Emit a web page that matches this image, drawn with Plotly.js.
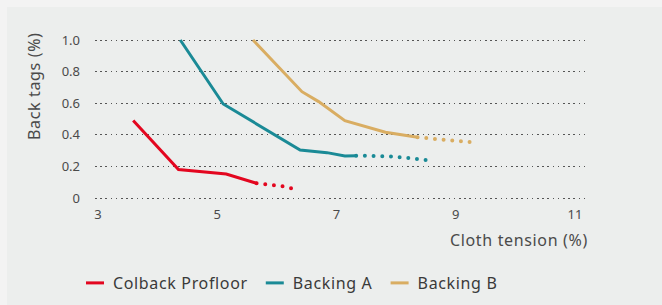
<!DOCTYPE html>
<html>
<head>
<meta charset="utf-8">
<script src="https://cdn.plot.ly/plotly-3.0.1.min.js"></script>
<style>
html, body { margin:0; padding:0; background:#f3f3f3; }
#chart { width:662px; height:305px; }
.scatterlayer .trace:nth-child(-n+3) path.js-line { stroke-linecap: round !important; }
.legend path.js-line { d: path("M13,0h18"); }
.legendtext, .annotation-text { letter-spacing: 0.65px; }
</style>
</head>
<body>
<div id="chart"></div>
<script>
// Series names
const seriesNames = ["Colback Profloor", "Backing A", "Backing B"];

// Solid (measured) parts
const profloorX = [3.59, 4.35, 5.15, 5.66];
const profloorY = [0.49, 0.18, 0.152, 0.093];
const backingAX = [4.38, 5.10, 6.39, 6.84, 7.14, 7.33];
const backingAY = [1.0, 0.595, 0.304, 0.287, 0.266, 0.268];
const backingBX = [5.60, 6.42, 6.70, 7.14, 7.82, 8.36];
const backingBY = [1.0, 0.673, 0.61, 0.489, 0.416, 0.384];

// Dotted (extrapolated) parts
const profloorDotX = [5.66, 6.07, 6.35];
const profloorDotY = [0.093, 0.076, 0.053];
const backingADotX = [7.33, 7.88, 8.20, 8.52];
const backingADotY = [0.268, 0.264, 0.253, 0.24];
const backingBDotX = [8.36, 8.79, 9.26];
const backingBDotY = [0.384, 0.369, 0.353];

// Ticks
const xTicks = [3, 5, 7, 9, 11];
const yTicks = [0, 0.2, 0.4, 0.6, 0.8, 1.0];
const yTickText = ["0", "0.2", "0.4", "0.6", "0.8", "1.0"];

const xTitle = "Cloth tension (%)";
const yTitle = "Back tags (%)";

const colors = ["#e3061f", "#1a8a96", "#d9ad62"];

const FONT = "'Noto Sans', sans-serif";

function dotted(x, y, c) {
  return { x: x, y: y, type: "scatter", mode: "lines", showlegend: false, hoverinfo: "skip",
           cliponaxis: false, line: { color: c, width: 4, dash: "0px,8.7px" } };
}
function solid(x, y, c, name) {
  return { x: x, y: y, type: "scatter", mode: "lines", name: name, cliponaxis: false,
           line: { color: c, width: 3 } };
}

const data = [
  dotted(profloorDotX, profloorDotY, colors[0]),
  dotted(backingADotX, backingADotY, colors[1]),
  dotted(backingBDotX, backingBDotY, colors[2]),
  solid(profloorX, profloorY, colors[0], seriesNames[0]),
  solid(backingAX, backingAY, colors[1], seriesNames[1]),
  solid(backingBX, backingBY, colors[2], seriesNames[2])
];

// plot area: x 95..587, y(0)=198, y(1)=40 ; range padded so edge gridlines draw
const L = 95, R = 75, T = 37, B = 104, W = 662, H = 305;
const pw = W - L - R, ph = H - T - B;
const px = v => (v - L) / pw;
const py = v => (H - B - v) / ph;

const layout = {
  width: W, height: H,
  margin: { l: L, r: R, t: T, b: B, pad: 0, autoexpand: false },
  paper_bgcolor: "#f3f3f3",
  plot_bgcolor: "rgba(0,0,0,0)",
  font: { family: FONT, color: "#4a4a4a" },
  xaxis: {
    range: [2.9497, 11.201],
    tickvals: xTicks, ticktext: xTicks.map(String),
    showgrid: false, zeroline: false, showline: false, ticks: "",
    tickfont: { size: 13, color: "#4a4a4a", family: FONT },
    ticklabelstandoff: 4
  },
  yaxis: {
    range: [-0.019, 1.019],
    tickvals: yTicks, ticktext: yTickText,
    showgrid: true, gridcolor: "#555", gridwidth: 1, griddash: "1.5px,3.7px",
    zeroline: false, showline: false, ticks: "",
    tickfont: { size: 13, color: "#4a4a4a", family: FONT },
    ticklabelstandoff: 14
  },
  showlegend: true,
  legend: {
    orientation: "h", x: px(73), xanchor: "left", y: py(283), yanchor: "middle",
    font: { size: 16, color: "#3a3a3a", family: FONT }, bgcolor: "rgba(0,0,0,0)"
  },
  shapes: [{
    type: "rect", xref: "paper", yref: "paper", layer: "below",
    x0: px(7), x1: px(W + 5), y0: py(H + 5), y1: py(7),
    fillcolor: "#eceeed", line: { width: 0 }
  }],
  annotations: [
    { text: xTitle, xref: "paper", yref: "paper", x: px(590), y: py(240),
      xanchor: "right", yanchor: "middle", showarrow: false,
      font: { size: 16, color: "#4a4a4a", family: FONT } },
    { text: yTitle, xref: "paper", yref: "paper", x: px(34), y: py(86),
      xanchor: "center", yanchor: "middle", textangle: -90, showarrow: false,
      font: { size: 16, color: "#4a4a4a", family: FONT } }
  ]
};

Plotly.newPlot("chart", data, layout, { displayModeBar: false, staticPlot: true });
</script>
</body>
</html>
